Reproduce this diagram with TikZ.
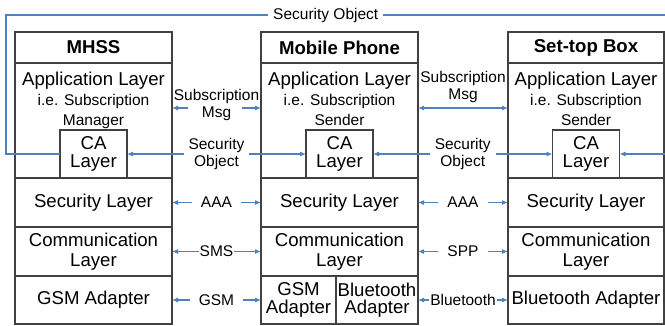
\documentclass[tikz,border=0pt]{standalone}
\usepackage{fontspec}
\setmainfont{Liberation Sans}
\usetikzlibrary{arrows.meta,positioning}
\definecolor{linkblue}{RGB}{79, 129, 189}
\definecolor{boxgray}{RGB}{64, 64, 64}
\newcommand{\bigtext}{\fontsize{18.6}{20}\selectfont}
\newcommand{\smalltext}{\fontsize{15.5}{17}\selectfont}
\tikzstyle{header}=[rectangle, draw=boxgray, line width=1.3pt, outer sep=0pt, inner sep=0pt, minimum width=157pt, minimum height=31pt, font=\bigtext\bfseries]
\tikzstyle{layer}=[rectangle, draw=boxgray, line width=1.3pt, outer sep=0pt, inner sep=0pt, minimum width=157pt, minimum height=49pt, align=center, font=\bigtext]
\tikzstyle{calayer}=[layer, minimum width=67pt, minimum height=48pt, font=\fontsize{18.6}{17.5}\selectfont]
\tikzstyle{apptext}=[inner sep=0pt, anchor=north, align=center, font=\fontsize{15.5}{20}\selectfont]
\tikzstyle{link}=[draw=linkblue, line width=1.1pt, {Latex[length=6pt,width=5pt]}-{Latex[length=6pt,width=5pt]}]
\tikzstyle{tag}=[fill=white, inner xsep=5pt, inner ysep=1pt, align=center, font=\smalltext]

\begin{document}
\begin{tikzpicture}[x=1pt, y=-1pt, node distance=0pt]
      %
      \path[use as bounding box] (0,0) rectangle (665,325);
      %
      % MHSS stack
      %
      \path node[header, anchor=north west] (mhss) at (15,32) {MHSS};
      \path node[layer, below=of mhss, minimum height=115pt] (mhssapp) {};
      \path node[apptext] (mhsstext) at ([yshift=-8.5pt]mhssapp.north)
        {{\bigtext Application Layer}\\ i.e. Subscription\\ Manager};
      \path node[calayer, anchor=south] (mhssca) at (mhssapp.south) {CA\\Layer};
      \path node[layer, below=of mhssapp] (mhsssec) {Security Layer};
      \path node[layer, below=of mhsssec] (mhsscomm) {Communication\\Layer};
      \path node[layer, below=of mhsscomm, minimum height=48pt] (mhssgsm) {GSM Adapter};
      %
      % Mobile Phone stack
      %
      \path node[header, anchor=north west] (phone) at (261,32) {Mobile Phone};
      \path node[layer, below=of phone, minimum height=115pt] (phoneapp) {};
      \path node[apptext] (phonetext) at ([yshift=-8.5pt]phoneapp.north)
        {{\bigtext Application Layer}\\ i.e. Subscription\\ Sender};
      \path node[calayer, anchor=south] (phoneca) at (phoneapp.south) {CA\\Layer};
      \path node[layer, below=of phoneapp] (phonesec) {Security Layer};
      \path node[layer, below=of phonesec] (phonecomm) {Communication\\Layer};
      \path node[layer, anchor=north west, minimum width=75pt, minimum height=48pt,
        font=\fontsize{18.6}{17.5}\selectfont] (phonegsm) at (phonecomm.south west) {GSM\\Adapter};
      \path node[layer, right=of phonegsm, minimum width=82pt, minimum height=48pt,
        font=\fontsize{18.6}{17.5}\selectfont] (phonebt) {Bluetooth\\Adapter};
      %
      % Set-top Box stack
      %
      \path node[header, anchor=north west, minimum width=156pt] (stb) at (508,32) {Set-top Box};
      \path node[layer, below=of stb, minimum width=156pt, minimum height=115pt] (stbapp) {};
      \path node[apptext] (stbtext) at ([yshift=-8.5pt]stbapp.north)
        {{\bigtext Application Layer}\\ i.e. Subscription\\ Sender};
      \path node[calayer, anchor=south] (stbca) at (stbapp.south) {CA\\Layer};
      \path node[layer, below=of stbapp, minimum width=156pt] (stbsec) {Security Layer};
      \path node[layer, below=of stbsec, minimum width=156pt] (stbcomm) {Communication\\Layer};
      \path node[layer, below=of stbcomm, minimum width=156pt, minimum height=48pt] (stbbt) {Bluetooth Adapter};
      %
      % MHSS <--> Mobile Phone
      %
      \path [link, dash pattern=on 11pt off 54pt on 40pt] ([yshift=12.5pt]mhssapp.east)
        -- node[tag, fill=none, yshift=3.5pt] {Subscription\\Msg} ([yshift=12.5pt]phoneapp.west);
      \path [link] (mhssca.east) -- node[tag] {Security\\Object} (phoneca.west);
      \path [link] (mhsssec.east) -- node[tag, inner xsep=9pt] {AAA} (phonesec.west);
      \path [link] (mhsscomm.east) -- node[tag, inner xsep=1pt] {SMS} (phonecomm.west);
      \path [link] (mhssgsm.east) -- node[tag, inner xsep=9pt] {GSM} (phonegsm.west);
      %
      % Mobile Phone <--> Set-top Box
      %
      \path [link] ([yshift=12.5pt]phoneapp.east) -- node[tag, fill=none, above=4pt] {Subscription\\Msg} ([yshift=12.5pt]stbapp.west);
      \path [link] (phoneca.east) -- node[tag] {Security\\Object} (stbca.west);
      \path [link] (phonesec.east) -- node[tag, inner xsep=9pt] {AAA} (stbsec.west);
      \path [link] (phonecomm.east) -- node[tag, inner xsep=9pt] {SPP} (stbcomm.west);
      \path [link] (phonebt.east) -- node[tag, inner xsep=1pt] {Bluetooth} (stbbt.west);
      %
      % MHSS CA --> Set-top Box CA (round the top)
      %
      \coordinate (loopleft) at (6,15);
      \coordinate (loopright) at (668,15);
      \path [draw=linkblue, line width=1.1pt, -{Latex[length=6pt,width=5pt]}]
        (mhssca.west) -| (loopleft) -- node[tag, pos=0.483] {Security Object} (loopright) |- (stbca.east);
      %
\end{tikzpicture}
\end{document}
